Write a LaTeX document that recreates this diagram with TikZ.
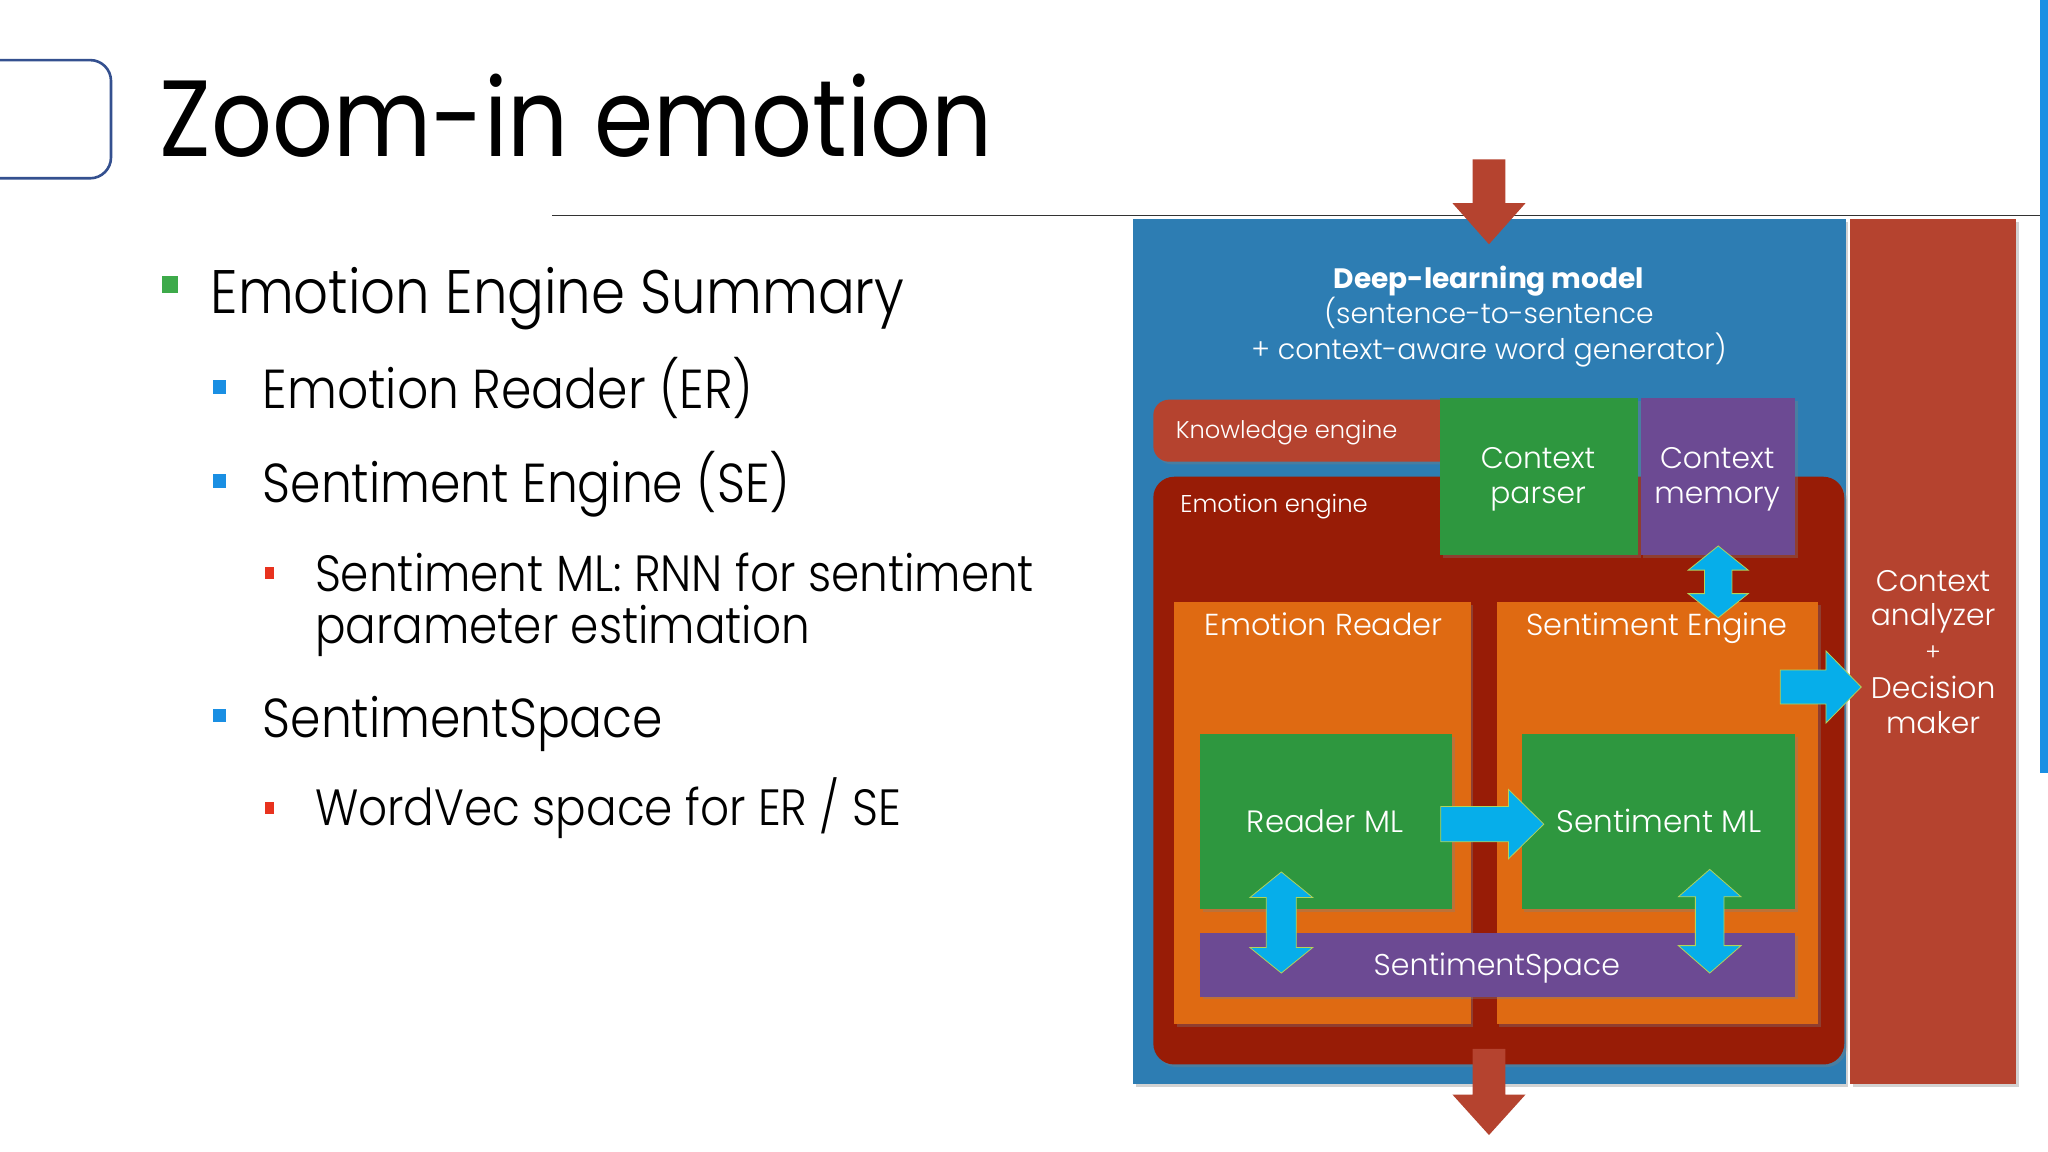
\documentclass[tikz,border=0pt]{standalone}
\usepackage{fontspec}
\setmainfont{Poppins}[UprightFont={* Light}, BoldFont={* Bold}]
\newfontfamily\titlefont{Poppins}[FakeStretch=0.88]
\newfontfamily\leftfont{Poppins}[UprightFont={* Light}, FakeStretch=0.89]
\usetikzlibrary{shadows}
\definecolor{cblue}{HTML}{2D7DB3}
\definecolor{cred}{HTML}{B5432F}
\definecolor{cdred}{HTML}{981C06}
\definecolor{cgreen}{HTML}{2E973F}
\definecolor{cpurple}{HTML}{6C4A93}
\definecolor{corange}{HTML}{DF6A12}
\definecolor{ccyan}{HTML}{06AEEA}
\definecolor{cline}{HTML}{B3D35A}
\definecolor{bgreen}{HTML}{3DAA4A}
\definecolor{bblue}{HTML}{1A8FE3}
\definecolor{bred}{HTML}{E8321E}
\definecolor{framec}{HTML}{34508F}
\newcommand\fs[1]{\fontsize{#1}{#1}\selectfont}
\newcommand\myvdarrow[6]{%
 \pgfmathsetmacro\xa{#1-#4}\pgfmathsetmacro\xb{#1+#4}%
 \pgfmathsetmacro\xc{#1-#5}\pgfmathsetmacro\xd{#1+#5}%
 \pgfmathsetmacro\ya{#2-#6}\pgfmathsetmacro\yb{#3+#6}%
 \draw[cyanarrow] (#1,#2) -- (\xd,\ya) -- (\xb,\ya) -- (\xb,\yb) -- (\xd,\yb) -- (#1,#3) -- (\xc,\yb) -- (\xa,\yb) -- (\xa,\ya) -- (\xc,\ya) -- cycle;}
\newcommand\myrarrow[6]{%
 \pgfmathsetmacro\ya{#4+#5}\pgfmathsetmacro\yb{#4-#5}%
 \pgfmathsetmacro\yc{#4+#6}\pgfmathsetmacro\yd{#4-#6}%
 \draw[cyanarrow] (#1,\ya) -- (#2,\ya) -- (#2,\yc) -- (#3,#4) -- (#2,\yd) -- (#2,\yb) -- (#1,\yb) -- cycle;}
\tikzset{
  box/.style={anchor=north west, inner sep=0pt, outer sep=0pt},
  shad/.style={drop shadow={shadow xshift=2pt, shadow yshift=-2pt, opacity=0.35}},
  cyanarrow/.style={fill=ccyan, draw=cline, line width=0.6pt, line join=miter},
  wtext/.style={text=white, inner sep=0pt, anchor=base},
  btext/.style={text=black, inner sep=0pt, anchor=base west, font=\leftfont},
}
\begin{document}
\begin{tikzpicture}[x=1pt,y=1pt]
\useasboundingbox (0,0) rectangle (1568,-882);
\fill[white] (0,0) rectangle (1568,-882);
% frame decoration
\draw[framec, line width=2pt, rounded corners=16pt] (-20,-46) -- (85,-46) -- (85,-136.5) -- (-20,-136.5);
\fill[bblue] (1562,0) rectangle (1568,-592);
\node[btext] (title) at (122,-120) {\titlefont\fs{83}Zoom-in emotion};
\coordinate (hl1) at (423,-165);
\coordinate (hl2) at (1562,-165);
\draw[black!80, line width=1.3pt] (hl1) -- (hl2);
% bullets
\fill[bgreen] (124,-211) rectangle (136,-224);
\node[btext] (b1) at (161,-240) {\fs{47}Emotion Engine Summary};
\fill[bblue] (163,-291) rectangle (173,-302);
\node[btext] (b2) at (201,-313) {\fs{42}Emotion Reader (ER)};
\fill[bblue] (163,-363) rectangle (173,-374);
\node[btext] (b3) at (201,-385) {\fs{42}Sentiment Engine (SE)};
\fill[bred] (203,-434) rectangle (210,-443);
\node[btext] (b4) at (241,-453) {\fs{39}Sentiment ML: RNN for sentiment};
\node[btext] (b4b) at (241,-493) {\fs{39}parameter estimation};
\fill[bblue] (163,-543) rectangle (173,-553);
\node[btext] (b5) at (201,-565) {\fs{42}SentimentSpace};
\fill[bred] (203,-614) rectangle (210,-623);
\node[btext] (b6) at (241,-632) {\fs{39}WordVec space for ER / SE};
% diagram
\node[box, fill=cblue, shad, minimum width=545.5pt, minimum height=662pt] (dl) at (867.5,-168) {};
\node[box, fill=cred, shad, minimum width=127pt, minimum height=662pt] (ca) at (1416.5,-168) {};
\fill[cred] (1127.5,-122) -- (1152.5,-122) -- (1152.5,-155.5) -- (1168,-155.5) -- (1140,-187) -- (1112,-155.5) -- (1127.5,-155.5) -- cycle;
\node[wtext] (dlt1) at (1140,-220.6) {\fs{21.5}\bfseries Deep-learning model};
\node[wtext] (dlt2) at (1140,-247.5) {\fs{21.6}(sentence-to-sentence};
\node[wtext] (dlt3) at (1140,-275.6) {\fs{21.8}+ context-aware word generator)};
\node[box, fill=cred, shad, rounded corners=12pt, minimum width=260pt, minimum height=47.5pt] (ke) at (883,-306) {};
\node[text=white, inner sep=0pt, anchor=base west] (ket) at (900,-335.6) {\fs{18.5}Knowledge engine};
\node[box, fill=cdred, shad, rounded corners=16pt, minimum width=529pt, minimum height=450pt] (ee) at (883,-365) {};
\node[text=white, inner sep=0pt, anchor=base west] (eet) at (903.5,-392) {\fs{18.6}Emotion engine};
\node[box, fill=cgreen, shad, minimum width=151.5pt, minimum height=120pt] (cp) at (1102.6,-305) {};
\node[wtext] (cpt1) at (1177.6,-358.5) {\fs{22.8}Context};
\node[wtext] (cpt2) at (1177.6,-385.5) {\fs{22.8}parser};
\node[box, fill=cpurple, shad, minimum width=118.5pt, minimum height=120pt] (cm) at (1256,-305) {};
\node[wtext] (cmt1) at (1314.7,-358.5) {\fs{22.8}Context};
\node[wtext] (cmt2) at (1314.7,-385.5) {\fs{22.8}memory};
\node[box, fill=corange, shad, minimum width=227pt, minimum height=323pt] (er) at (899,-461) {};
\node[wtext] (ert) at (1013.5,-486.7) {\fs{23.2}Emotion Reader};
\node[box, fill=corange, shad, minimum width=246pt, minimum height=323pt] (se) at (1146,-461) {};
\node[wtext] (set) at (1268.7,-486.7) {\fs{23.2}Sentiment Engine};
\node[box, fill=cgreen, shad, minimum width=193pt, minimum height=134pt] (rml) at (919,-562) {};
\node[wtext] (rmlt) at (1014.6,-637) {\fs{23.6}Reader ML};
\node[box, fill=cgreen, shad, minimum width=209.5pt, minimum height=134pt] (sml) at (1165,-562) {};
\node[wtext] (smlt) at (1270,-637) {\fs{23.8}Sentiment ML};
\node[box, fill=cpurple, shad, minimum width=455.5pt, minimum height=48.5pt] (ss) at (919,-714.5) {};
\node[wtext] (sst) at (1146,-746.7) {\fs{23}SentimentSpace};
\fill[cred] (1127.5,-803) -- (1152.5,-803) -- (1152.5,-838) -- (1168,-838) -- (1140,-869) -- (1112,-838) -- (1127.5,-838) -- cycle;
\node[wtext] (cat1) at (1480,-452.6) {\fs{22.8}Context};
\node[wtext] (cat2) at (1480,-479) {\fs{22.8}analyzer};
\node[wtext] (cat3) at (1480,-506) {\fs{18}+};
\node[wtext] (cat4) at (1480,-534.6) {\fs{22.8}Decision};
\node[wtext] (cat5) at (1480,-561.5) {\fs{22.8}maker};
% cyan arrows
\myrarrow{1103}{1155}{1182}{-631}{13.5}{26.5}
\myrarrow{1363}{1398}{1425}{-526}{13}{27.6}
\myvdarrow{1315.5}{-418}{-473}{10.5}{23}{18.5}
\myvdarrow{981}{-667.6}{-745}{11.5}{24}{19.5}
\myvdarrow{1309}{-665.6}{-745}{11}{24}{21}
\end{tikzpicture}
\end{document}
